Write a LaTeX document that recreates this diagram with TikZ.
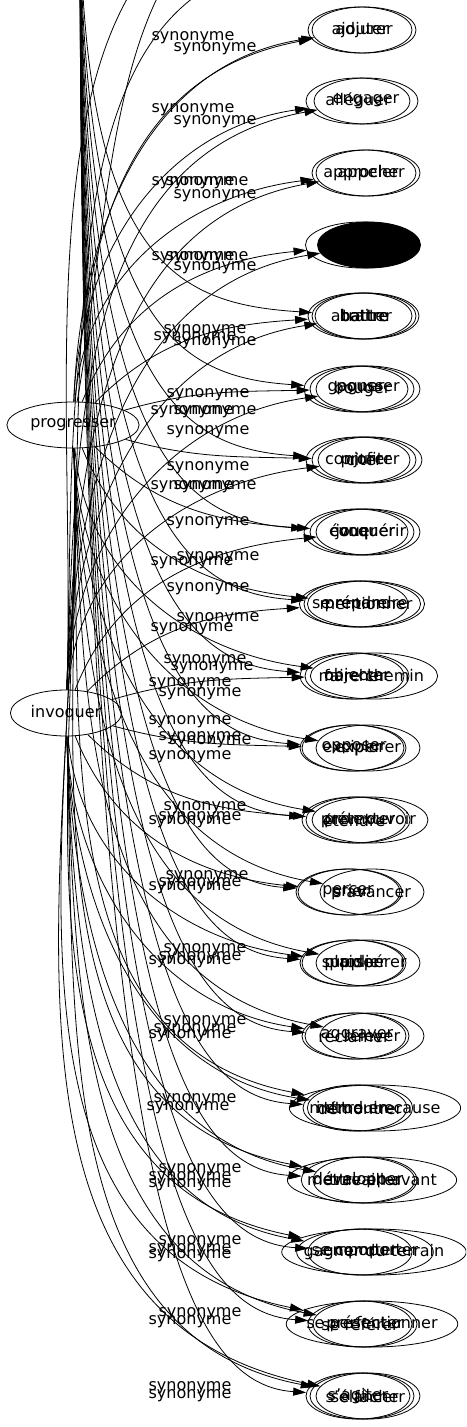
\documentclass[tikz,border=0pt]{standalone}
\usepackage{fontspec}
\setmainfont{DejaVu Sans}
\usetikzlibrary{shapes.geometric,arrows.meta,positioning}

\begin{document}
\begin{tikzpicture}[
  x=1pt, y=1pt,
  every node/.style={font=\fontsize{16}{18}\selectfont},
  src/.style={ellipse, draw=black, line width=0.8pt, inner xsep=4pt, minimum height=46pt},
  tgt/.style={ellipse, draw=black, line width=0.8pt, inner xsep=-5pt, minimum width=104pt, minimum height=46pt},
  lbl/.style={inner sep=0pt},
  edge/.style={-{Triangle[length=13pt,width=8pt]}, line width=0.8pt}
]
  \useasboundingbox (0,0) rectangle (466,-1427);
  \clip (0,0) rectangle (466,-1427);

  % source words
  \node[src] (prog) at (73,-425) {progresser};
  \node[src] (invo) at (66,-713) {invoquer};

  % target words, several stacked on each rank
  \foreach \i/\y/\xa/\wa/\xb/\wb in {
      1/30/364/adjurer/360/ajouter,
      2/101/358/alléguer/366/engager,
      3/173/364/approcher/368/appeler,
      5/316/360/abattre/367/traiter,
      6/389/362/bouger/368/pousser,
      7/460/364/citer/370/profiter,
      8/532/362/évoquer/368/conquérir,
      9/604/366/mentionner/360/se répandre,
      10/676/374/faire chemin/357/objecter,
      11/748/368/explorer/354/opposer,
      12/820/370/promouvoir/358/prétexter,
      13/892/372/s'avancer/350/prier,
      14/963/368/prospérer/354/supplier,
      15/1036/372/relever/354/réclamer,
      16/1108/375/mettre en cause/360/démontrer,
      17/1180/372/mettre en avant/365/travailler,
      18/1252/374/gagner du terrain/365/se comporter,
      19/1324/372/se perfectionner/365/présenter,
      20/1396/368/se fâcher/362/s'élancer} {
    \node[tgt] (ra\i) at (\xa,-\y) {\wa};
    \node[tgt] (rb\i) at (\xb,-\y) {\wb};
  }
  \foreach \i/\y/\xc/\wc in {
      5/316/364/battre, 6/389/356/gagner, 7/460/358/conjurer,
      8/532/356/jouer, 9/604/356/prendre, 10/676/352/marcher,
      11/748/352/exciper, 12/820/354/étendre, 13/892/348/percer,
      14/963/352/plaider, 15/1036/357/aggraver, 16/1108/355/introduire,
      17/1180/358/développer, 18/1252/360/emporter, 19/1324/360/se référer,
      20/1396/358/s'agiter} {
    \node[tgt] (rc\i) at (\xc,-\y) {\wc};
  }
  \node[tgt, minimum width=113pt] (ra4) at (362,-245) {};
  \node[tgt, fill=black, minimum width=103pt] (rb4) at (369,-245) {};

  % ends that lie above the picture
  \coordinate (upsrc) at (80,120);
  \coordinate (offa) at (330,40);
  \coordinate (offb) at (330,110);

  \foreach \i/\y in {1/30,2/101,3/173,4/245,5/316,6/389,7/460,8/532,9/604,10/676,
      11/748,12/820,13/892,14/963,15/1036,16/1108,17/1180,18/1252,19/1324,20/1396} {
    \pgfmathsetmacro\pa{atan2(425-\y,230)}
    \pgfmathsetmacro\ia{atan2(713-\y,230)}
    \pgfmathsetmacro\po{max(-88,min(88,1.8*\pa))}
    \pgfmathsetmacro\io{max(-88,min(88,1.8*\ia))}
    \pgfmathsetmacro\pin{180+0.15*\pa}
    \pgfmathsetmacro\iin{180+0.15*\ia}
    \draw[edge] (prog) to[out=\po,in=\pin] (ra\i);
    \draw[edge] (invo) to[out=\io,in=\iin] (rb\i);
  }
  \foreach \i/\y in {5/316,6/389,7/460,8/532,9/604,10/676,11/748,12/820,13/892,
      14/963,15/1036,16/1108,17/1180,18/1252,19/1324,20/1396} {
    \draw[edge] (upsrc) .. controls (78,-0.85*\y) and (180,-\y+12) .. (rc\i);
  }
  \draw[edge] (invo) to[out=85,in=180] (offa);
  \draw[edge] (prog) to[out=80,in=180] (offb);
  \draw[edge] (invo) to[out=88,in=180] (offb);

  % edge labels
  \foreach \x/\y [count=\k] in {193/38, 215/49, 193/110, 215/122, 193/183, 207/183,
      215/196, 193/258, 207/258, 215/268, 205/331, 195/338, 215/343, 208/395,
      192/412, 215/412, 208/432, 208/468, 192/487, 215/487, 208/523, 218/558,
      192/563, 208/589, 218/619, 192/629, 205/661, 212/668, 190/684, 200/694,
      190/722, 200/738, 210/742, 190/757, 205/808, 200/818, 190/822, 207/877,
      200/884, 190/888, 205/950, 200/958, 190/962, 205/1022, 195/1030, 190/1036,
      195/1100, 188/1108, 200/1170, 190/1178, 190/1185, 200/1242, 190/1250,
      190/1256, 200/1314, 190/1322, 190/1388, 190/1396} {
    \node[lbl] (syn\k) at (\x,-\y) {synonyme};
  }
\end{tikzpicture}
\end{document}
